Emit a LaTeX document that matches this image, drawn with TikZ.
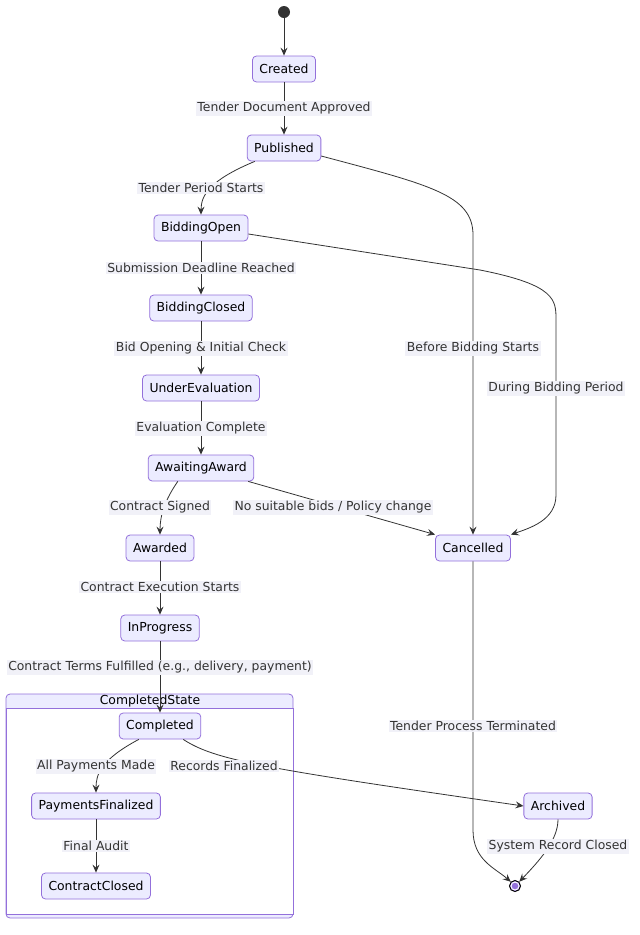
\documentclass[tikz,border=0pt]{standalone}
\usepackage{fontspec}
\setmainfont{DejaVu Sans}
\usetikzlibrary{arrows.meta}
\definecolor{nodefill}{HTML}{ECECFF}
\definecolor{nodeline}{HTML}{9370DB}
\definecolor{ink}{HTML}{333333}
\definecolor{lblbg}{HTML}{F1F1F8}
\begin{document}
\begin{tikzpicture}[x=1pt,y=-1pt,
  font=\fontsize{12.4}{14}\selectfont,
  state/.style={draw=nodeline,fill=nodefill,rounded corners=4pt,minimum height=26pt,inner xsep=7pt,inner ysep=0pt,text=black,line width=0.8pt},
  lbl/.style={fill=lblbg,inner sep=1.5pt,text=ink},
  tr/.style={draw=ink,line width=0.8pt,-{Stealth[length=8pt,width=7pt,inset=3pt]}}]
\useasboundingbox (0,0) rectangle (640,935);
% composite
\draw[draw=nodeline,fill=nodefill,rounded corners=4pt,line width=0.8pt] (6,694) rectangle (293,918);
\draw[draw=nodeline,fill=white,line width=0.8pt] (6,708) rectangle (293,914);
\node[text=black] (cs) at (150,701) {CompletedState};
% start/end
\node[circle,fill=ink,minimum size=12pt,inner sep=0pt] (start) at (284,12) {};
\node[circle,draw=black,line width=1pt,fill=nodeline,minimum size=11pt,inner sep=0pt] (end) at (515,886) {};
\node[circle,draw=white,line width=1pt,minimum size=8pt,inner sep=0pt] at (515,886) {};
% states
\node[state] (created) at (284,69) {Created};
\node[state] (published) at (284,148) {Published};
\node[state] (bopen) at (201,228) {BiddingOpen};
\node[state] (bclosed) at (201,308) {BiddingClosed};
\node[state] (underev) at (201,388) {UnderEvaluation};
\node[state] (await) at (201,468) {AwaitingAward};
\node[state] (awarded) at (160,548) {Awarded};
\node[state] (inprog) at (160,628) {InProgress};
\node[state] (completed) at (160,726) {Completed};
\node[state] (payfin) at (96,806) {PaymentsFinalized};
\node[state] (cclosed) at (96,886) {ContractClosed};
\node[state] (cancelled) at (473,548) {Cancelled};
\node[state] (archived) at (558,806) {Archived};
% edges
\draw[tr] (start) -- (created);
\draw[tr] (created) -- (published);
\draw[tr] (published.south west) ++(8,0) coordinate (p1) (p1) .. controls (210,180) and (201,195) .. (bopen.north);
\draw[tr] (bopen) -- (bclosed);
\draw[tr] (bclosed) -- (underev);
\draw[tr] (underev) -- (await);
\draw[tr] (await.south west) ++(30,0) coordinate (a1) (a1) .. controls (165,500) and (160,515) .. (awarded.north);
\draw[tr] (await.south east) ++(-6,0) coordinate (a2) (a2) -- (cancelled.north west);
\draw[tr] (awarded) -- (inprog);
\draw[tr] (inprog) -- (completed);
\draw[tr] (completed.south west) ++(20,0) coordinate (c1) (c1) .. controls (100,760) and (96,775) .. (payfin.north);
\draw[tr] (payfin) -- (cclosed);
\draw[tr] (completed.south east) ++(-18,0) coordinate (c2) (c2) .. controls (215,760) and (260,768) .. (archived.west);
\draw[tr] (published.east) ++(0,8) coordinate (p2) (p2) .. controls (430,185) and (473,195) .. (473,235) -- (cancelled.north);
\draw[tr] (bopen.east) ++(0,6) coordinate (b1) (b1) -- (480,270) .. controls (556,285) and (556,300) .. (556,320) -- (556,495) .. controls (556,520) and (530,528) .. (cancelled.north east);
\draw[tr] (cancelled) -- (473,830) .. controls (473,860) and (495,868) .. (end.north west);
\draw[tr] (archived) .. controls (558,840) and (540,860) .. (end.north east);
% labels
\node[lbl] at (284,108) {Tender Document Approved};
\node[lbl] at (201,188) {Tender Period Starts};
\node[lbl] at (201,268) {Submission Deadline Reached};
\node[lbl] at (201,348) {Bid Opening \& Initial Check};
\node[lbl] at (201,428) {Evaluation Complete};
\node[lbl] at (160,507) {Contract Signed};
\node[lbl] at (333,507) {No suitable bids / Policy change};
\node[lbl] at (160,587) {Contract Execution Starts};
\node[lbl] at (160,667) {Contract Terms Fulfilled (e.g., delivery, payment)};
\node[lbl] at (96,766) {All Payments Made};
\node[lbl] at (224,766) {Records Finalized};
\node[lbl] at (96,846) {Final Audit};
\node[lbl] at (473,348) {Before Bidding Starts};
\node[lbl] at (556,388) {During Bidding Period};
\node[lbl] at (473,726) {Tender Process Terminated};
\node[lbl] at (558,846) {System Record Closed};
\end{tikzpicture}
\end{document}
